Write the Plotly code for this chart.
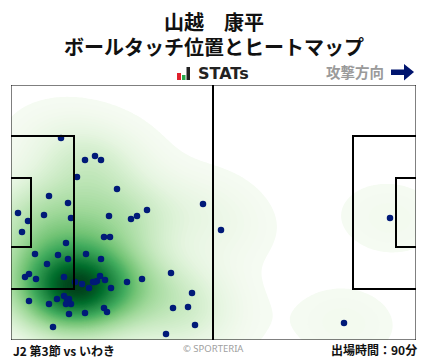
import numpy as np
import plotly.graph_objects as go

# Pitch units: 405 x 255, attacking left to right
PITCH_W, PITCH_H = 405, 255
touch_x = [50,74,84,90,66,106,38,57,192,136,126,120,98,33,7,60,17,11,93,99,55,24,47,75,57,90,36,160,18,14,25,53,89,94,131,86,82,84,71,64,100,78,53,116,181,46,60,38,58,56,18,55,93,96,162,177,58,74,184,42,155,210,379,333]
touch_y = [202,180,184,180,163,151,144,137,136,130,124,121,124,125,127,122,119,108,103,103,97,86,85,86,81,81,76,67,66,63,61,63,64,60,61,59,58,58,56,58,52,52,44,58,47,41,36,36,41,41,39,36,32,28,32,33,26,27,15,13,6,110,122,17]
marker_color = "#001a78"

box_x, box_y = [0, 63], [51, 204]
goal_x, goal_y = [0, 20], [93, 162]

title_line1 = "山越　康平"
title_line2 = "ボールタッチ位置とヒートマップ"
left_note = "J2 第3節 vs いわき"
right_note = "出場時間：90分"
credit = "© SPORTERIA"
direction = "攻撃方向"
logo_text = "STATs"
jp = "Noto Sans CJK JP"

# Density surface estimated from the touches themselves (Gaussian KDE)
pts = np.array([touch_x, touch_y], dtype=float)
grid_x = np.linspace(0, PITCH_W, 203)
grid_y = np.linspace(0, PITCH_H, 128)
n = pts.shape[1]
cov = np.cov(pts) * n ** (-2 / 6) * 1.15
inv = np.linalg.inv(cov)
gx, gy = np.meshgrid(grid_x, grid_y)
dx = gx[..., None] - pts[0]
dy = gy[..., None] - pts[1]
z = np.exp(-0.5 * (inv[0, 0] * dx**2 + 2 * inv[0, 1] * dx * dy + inv[1, 1] * dy**2)).sum(axis=2)
z = z / z.max()

colorscale = [[0, "#ffffff"], [0.008, "#ffffff"], [0.009, "#f6fbf3"], [0.05, "#f1f9ed"], [0.13, "#e5f5e0"], [0.26, "#c7e9c0"],
              [0.4, "#a1d99b"], [0.53, "#74c476"], [0.65, "#41ab5d"], [0.77, "#238b45"],
              [0.88, "#006d2c"], [1, "#00401a"]]

fig = go.Figure()
fig.add_trace(go.Contour(x=grid_x, y=grid_y, z=z, colorscale=colorscale, zmin=0, zmax=1,
                         contours=dict(start=0.009, end=1, size=0.01, coloring="fill", showlines=False),
                         line=dict(width=0), showscale=False, hoverinfo="skip"))
fig.add_trace(go.Scatter(x=touch_x, y=touch_y, mode="markers",
                         marker=dict(size=6.5, color=marker_color), hoverinfo="skip"))

line2 = dict(color="black", width=2)
shapes = [
    dict(type="line", x0=PITCH_W / 2 - 0.5, x1=PITCH_W / 2 - 0.5, y0=0, y1=PITCH_H, line=line2),
    dict(type="path", path=f"M {box_x[0]} {box_y[0]} L {box_x[1]} {box_y[0]} L {box_x[1]} {box_y[1]} L {box_x[0]} {box_y[1]}", line=line2),
    dict(type="path", path=f"M {goal_x[0]} {goal_y[0]} L {goal_x[1]} {goal_y[0]} L {goal_x[1]} {goal_y[1]} L {goal_x[0]} {goal_y[1]}", line=line2),
    dict(type="path", path=f"M {PITCH_W-box_x[0]} {box_y[0]} L {PITCH_W-box_x[1]} {box_y[0]} L {PITCH_W-box_x[1]} {box_y[1]} L {PITCH_W-box_x[0]} {box_y[1]}", line=line2),
    dict(type="path", path=f"M {PITCH_W-goal_x[0]} {goal_y[0]} L {PITCH_W-goal_x[1]} {goal_y[0]} L {PITCH_W-goal_x[1]} {goal_y[1]} L {PITCH_W-goal_x[0]} {goal_y[1]}", line=line2),
    dict(type="rect", x0=0, x1=PITCH_W, y0=0, y1=PITCH_H, line=dict(color="black", width=1)),
]

W, H = 428, 359
# paper fractions refer to the plot area: convert page pixels accordingly
def px(x): return (x - 11) / 405
def py(y): return (340 - y) / 255

arrow = [(391, 69.5), (404, 69.5), (404, 64), (414, 72), (404, 80.5), (404, 75), (391, 75)]
path = "M " + " L ".join(f"{px(a):.4f} {py(b):.4f}" for a, b in arrow) + " Z"
shapes.append(dict(type="path", xref="paper", yref="paper", path=path, fillcolor="#00146e", line=dict(width=0)))
for x0, x1, top, col in [(177, 181, 73, "#e0202c"), (182, 185.5, 75, "#2aa84a"), (186.5, 190, 67, "#222222")]:
    shapes.append(dict(type="rect", xref="paper", yref="paper", x0=px(x0), x1=px(x1), y0=py(80), y1=py(top),
                       fillcolor=col, line=dict(width=0)))

def note(text, x, y, size, color="#111111", anchor="center", family=jp):
    return dict(text=text, x=px(x), y=py(y), xref="paper", yref="paper", xanchor=anchor, yanchor="middle",
                showarrow=False, font=dict(size=size, color=color, family=family))

annotations = [
    note("<b>" + title_line1 + "</b>", 214, 21, 20),
    note("<b>" + title_line2 + "</b>", 214, 46, 20),
    note("<b>" + logo_text + "</b>", 196, 73.5, 16, "#222222", "left", "DejaVu Sans"),
    note("<b>" + direction + "</b>", 385.5, 72, 14.5, "#9a9a9a", "right"),
    note("<b>" + left_note + "</b>", 11, 350, 12, "#111111", "left"),
    note(credit, 213, 348.5, 9.5, "#a0a0a0", "center", "Noto Sans"),
    note("<b>" + right_note + "</b>", 419, 349.5, 12, "#111111", "right"),
]

fig.update_layout(
    width=W, height=H, margin=dict(l=11, r=12, t=85, b=19), showlegend=False,
    paper_bgcolor="white", plot_bgcolor="white", shapes=shapes, annotations=annotations,
    xaxis=dict(range=[0, PITCH_W], visible=False, fixedrange=True),
    yaxis=dict(range=[0, PITCH_H], visible=False, fixedrange=True),
)
fig.write_html("out.html", config={"displayModeBar": False},
               post_script="document.body.style.margin='0';")
